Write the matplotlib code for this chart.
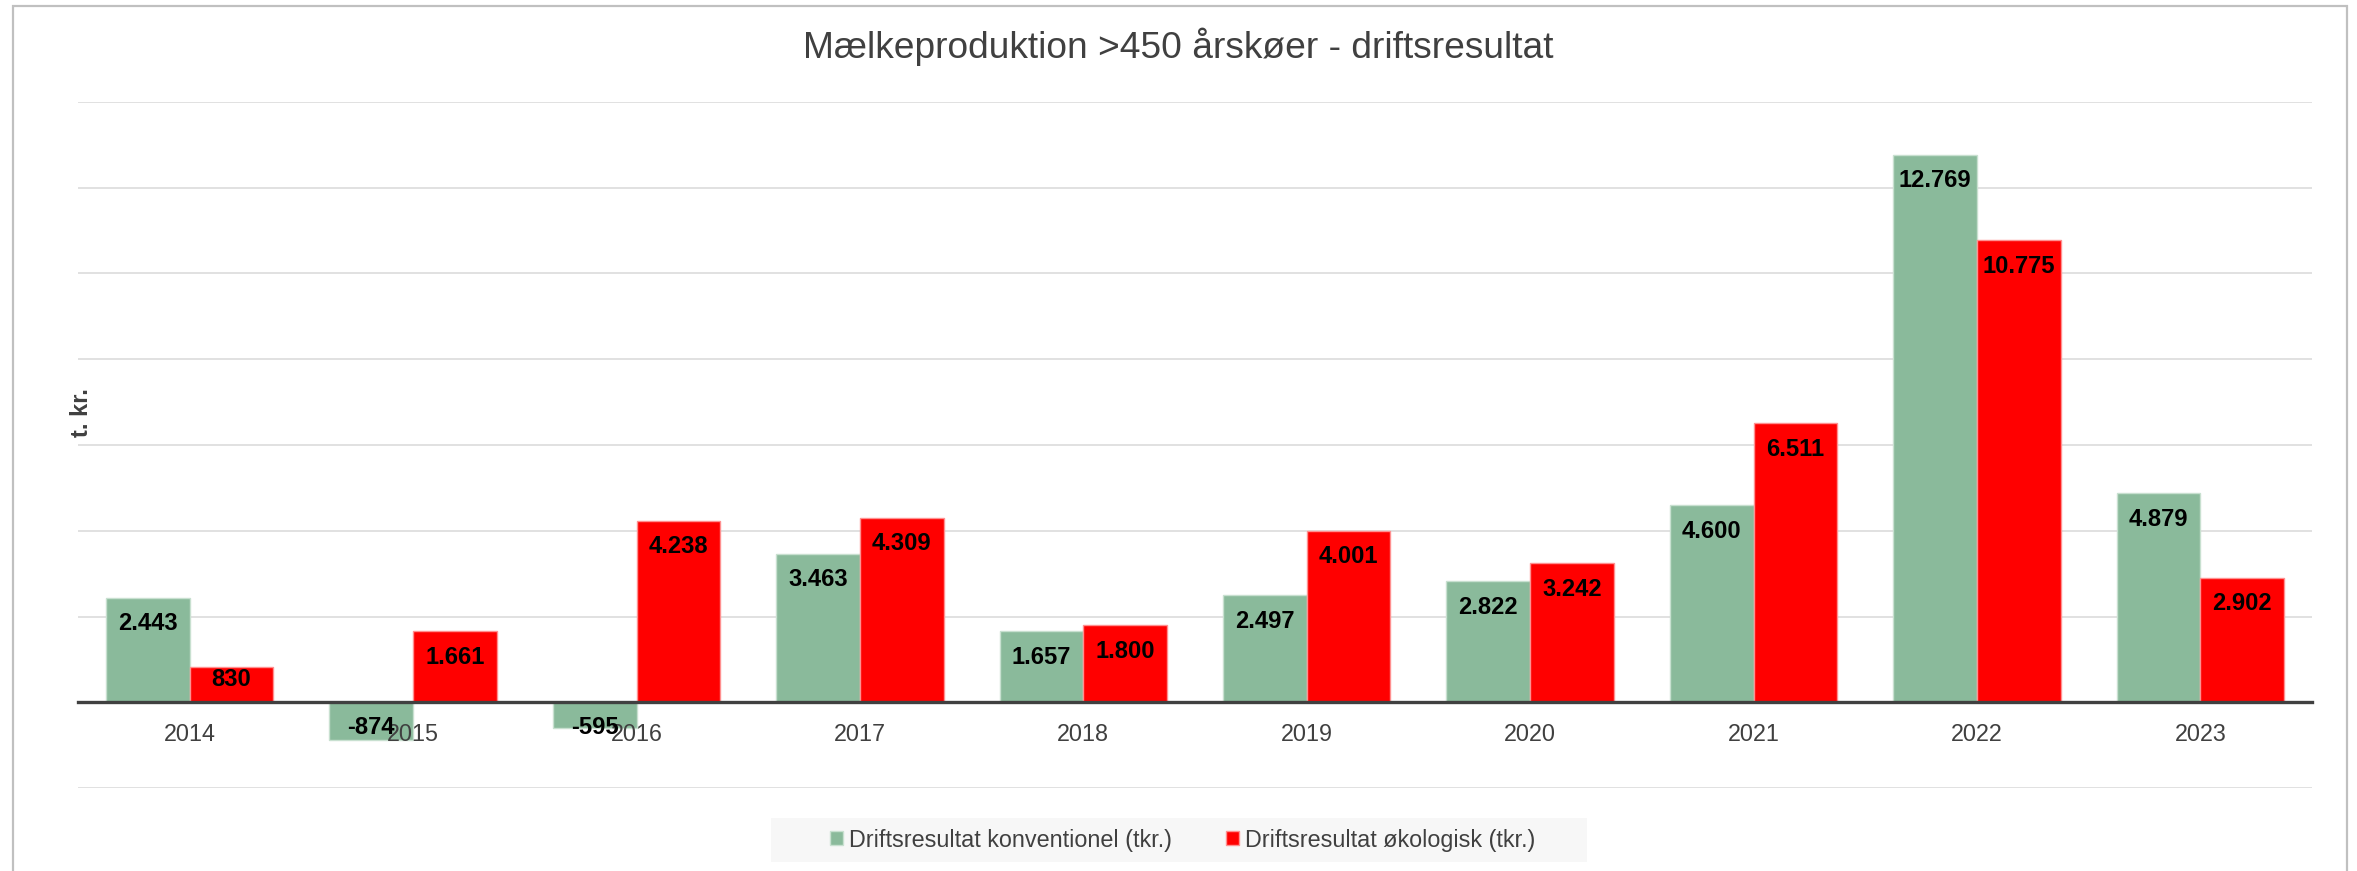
import matplotlib
matplotlib.use("Agg")
import matplotlib.pyplot as plt
from matplotlib.patches import Rectangle, Patch
import numpy as np

plt.rcParams['font.family'] = ['Liberation Sans', 'DejaVu Sans']

years = ["2014", "2015", "2016", "2017", "2018", "2019", "2020", "2021", "2022", "2023"]
konventionel = [2443, -874, -595, 3463, 1657, 2497, 2822, 4600, 12769, 4879]
oekologisk = [830, 1661, 4238, 4309, 1800, 4001, 3242, 6511, 10775, 2902]
series_names = ["Driftsresultat konventionel (tkr.)", "Driftsresultat økologisk (tkr.)"]
title = "Mælkeproduktion >450 årskøer - driftsresultat"
ylabel = "t. kr."

W, H = 2357, 871
DPI = 100
fig = plt.figure(figsize=(W / DPI, H / DPI), dpi=DPI)

# chart border
fig.patches.append(Rectangle((13 / W, -0.1), (2347 - 13) / W, 1.1 - 6 / H,
                             transform=fig.transFigure, fill=False,
                             edgecolor='#c0c0c0', linewidth=1.6, zorder=0))

left, right, top, bottom = 78, 2312, 102, 788
ax = fig.add_axes([left / W, 1 - bottom / H, (right - left) / W, (bottom - top) / H])

green = '#8aba9b'
red = '#ff0000'
x = np.arange(len(years))
bw = 0.375
ax.bar(x - bw / 2, konventionel, bw, color=green, edgecolor='#c8e0d0', linewidth=1.0, zorder=2)
ax.bar(x + bw / 2, oekologisk, bw, color=red, edgecolor='#ff9090', linewidth=1.0, zorder=2)

ax.set_xlim(-0.5, len(years) - 0.5)
ax.set_ylim(-2000, 14000)
ax.set_yticks(np.arange(-2000, 14001, 2000))
ax.set_yticklabels([])
ax.tick_params(axis='y', length=0)
ax.grid(axis='y', color='#d9d9d9', linewidth=1.1)
ax.set_axisbelow(True)
ax.xaxis.set_zorder(3)
for s in ['top', 'right', 'left']:
    ax.spines[s].set_visible(False)
ax.spines['bottom'].set_position(('data', 0))
ax.spines['bottom'].set_color('#404040')
ax.spines['bottom'].set_linewidth(2.4)
ax.spines['bottom'].set_zorder(3)
ax.set_xticks(x)
ax.set_xticklabels(years, fontsize=16.8, color='#404040')
ax.tick_params(axis='x', length=0, pad=15)

px_per_unit = (bottom - top) / 16000.0

def fmt(v):
    return f"{v:,}".replace(",", ".")

for xs, vals in [(x - bw / 2, konventionel), (x + bw / 2, oekologisk)]:
    for xi, v in zip(xs, vals):
        h = abs(v) * px_per_unit
        if v >= 0:
            off = min(26, h - 23)
            ax.annotate(fmt(v), (xi, v), xytext=(0, -off * 0.72), textcoords='offset points',
                        ha='center', va='center', fontsize=17.1, fontweight='bold',
                        color='black', zorder=4)
        else:
            ax.annotate(fmt(v), (xi, 0), xytext=(0, -25 * 0.72), textcoords='offset points',
                        ha='center', va='center', fontsize=17.1, fontweight='bold',
                        color='black', zorder=4)

fig.text(1178 / W, 1 - 46.5 / H, title, ha='center', va='center', fontsize=26.7, color='#404040')
fig.text(81 / W, 1 - 413 / H, ylabel, rotation=90, ha='center', va='center',
         fontsize=17, fontweight='bold', color='#404040')

# legend background
fig.patches.append(Rectangle((771 / W, 1 - 862 / H), (1587 - 771) / W, 44 / H,
                             transform=fig.transFigure, facecolor='#f7f7f7',
                             edgecolor='none', zorder=1))
handles = [Patch(facecolor=green, edgecolor='#c8e0d0'), Patch(facecolor=red, edgecolor='#ff9090')]
leg = fig.legend(handles, series_names, loc='center', bbox_to_anchor=(1182.5 / W, 1 - 840 / H),
                 ncol=2, frameon=False, fontsize=16.8, handlelength=0.56, handleheight=0.56,
                 handletextpad=0.26, columnspacing=2.3, borderpad=0)
for t in leg.get_texts():
    t.set_color('#404040')

fig.savefig("out.png", dpi=DPI)
